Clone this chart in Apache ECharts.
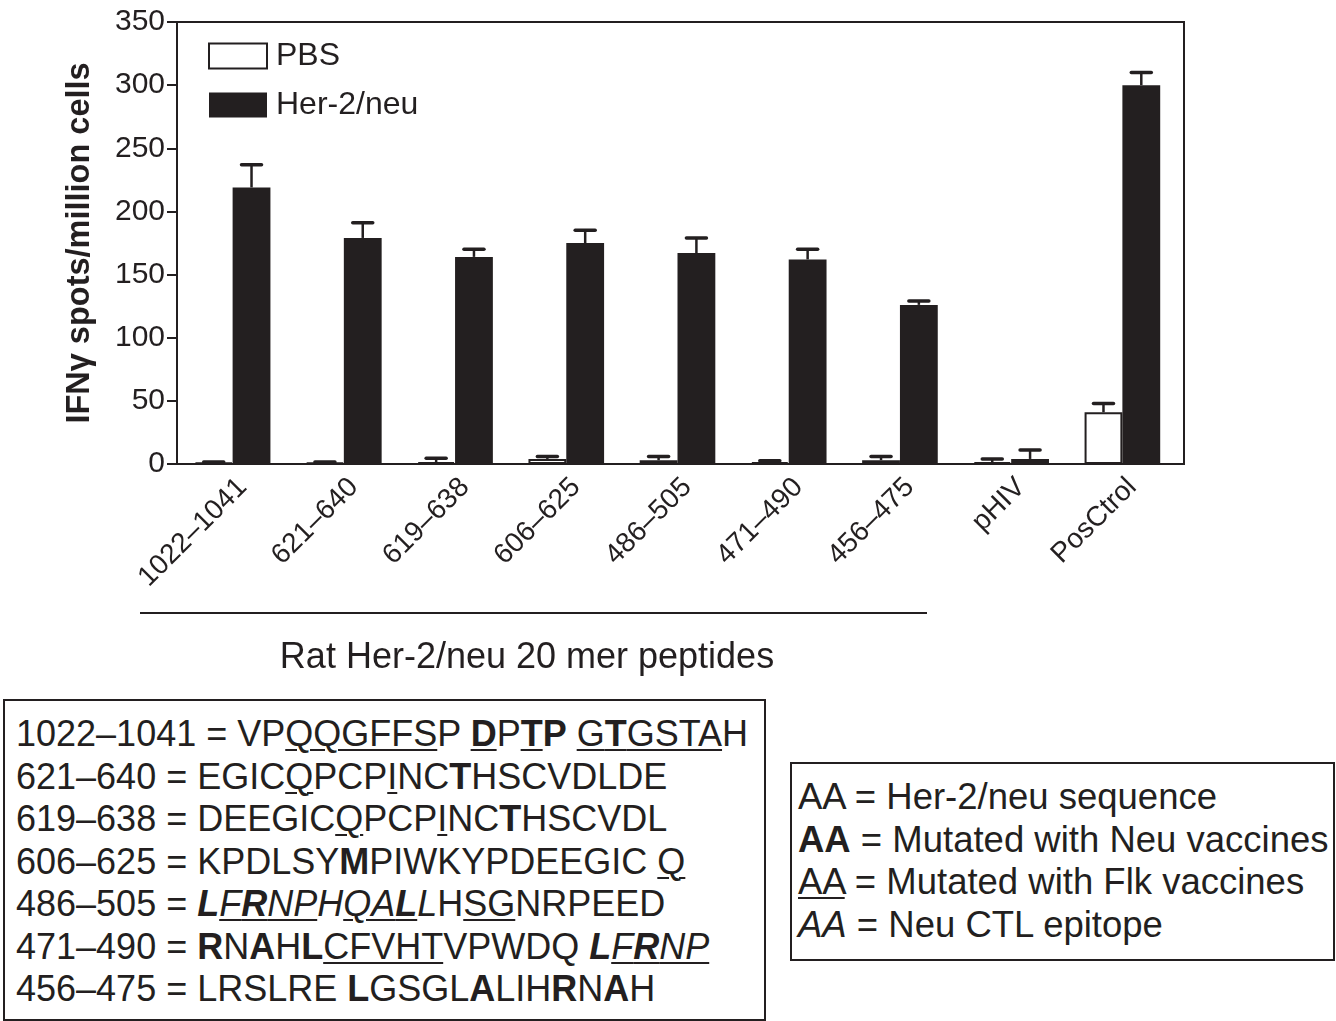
<!DOCTYPE html>
<html>
<head>
<meta charset="utf-8">
<script src="https://cdn.jsdelivr.net/npm/echarts@6/dist/echarts.min.js"></script>
<style>
  body { margin: 0; background: #fff; }
  #main { position: absolute; left: 0; top: 0; width: 1336px; height: 1021px; }
  .box {
    position: absolute; box-sizing: border-box; border: 2px solid #231f20;
    font-family: 'Liberation Sans', Arial, sans-serif; color: #231f20;
    background: #fff; white-space: nowrap;
  }
  #seqBox { left: 3px; top: 699px; width: 763px; height: 322px; font-size: 36px; line-height: 42.5px; padding: 12px 0 0 11px; }
  #keyBox { left: 790px; top: 762px; width: 545px; height: 199px; font-size: 36.5px; line-height: 42.5px; padding: 12px 0 0 6px; }
  u { text-decoration-thickness: 2px; text-underline-offset: 3px; }
</style>
</head>
<body>
<div id="main"></div>
<div class="box" id="seqBox"></div>
<div class="box" id="keyBox"></div>
<script>
var categories = ['1022–1041', '621–640', '619–638', '606–625', '486–505', '471–490', '456–475', 'pHIV', 'PosCtrol']
var pbsMean = [1, 1, 1.5, 4, 3, 1.5, 3, 1.5, 41]
var pbsErr = [0.5, 0.5, 3, 2, 3, 1, 3, 2.5, 7]
var herMean = [219, 179, 164, 175, 167, 162, 126, 4, 300]
var herErr = [18, 12, 6, 10, 12, 8, 3, 7, 10]
var yTicks = [0, 50, 100, 150, 200, 250, 300, 350]

// peptide sequences (bold = Neu mutation, underline = Flk mutation, italic = CTL epitope)
var sequenceLines = [
  '1022–1041 = VP<u>QQGFFS</u>P <b><u>D</u></b>P<b><u>T</u>P</b> <u>G<b>T</b>GSTA</u>H',
  '621–640 = EGIC<u>Q</u>PCP<u>I</u>NC<b>T</b>HSCVDLDE',
  '619–638 = DEEGIC<u>Q</u>PCP<u>I</u>NC<b>T</b>HSCVDL',
  '606–625 = KPDLSY<b>M</b>PIWKYPDEEGIC <u>Q</u>',
  '486–505 = <i><b>L</b><u>F<b>R</b>NP</u>H<u>QA<b>L</b></u>L</i>H<u>SG</u>NRPEED',
  '471–490 = <b>R</b>N<b>A</b>H<b>L</b><u>CFVHT</u>VPWDQ <i><b>L</b><u>F<b>R</b>NP</u></i>',
  '456–475 = LRSLRE <b>L</b>GSGL<b>A</b>LIH<b>R</b>N<b>A</b>H'
]
var keyLines = [
  'AA = Her-2/neu sequence',
  '<b>AA</b> = Mutated with Neu vaccines',
  '<u>AA</u> = Mutated with Flk vaccines',
  '<i>AA</i> = Neu CTL epitope'
]
document.getElementById('seqBox').innerHTML = sequenceLines.join('<br>')
document.getElementById('keyBox').innerHTML = keyLines.join('<br>')

var ink = '#231f20'
var font = "'Liberation Sans', Arial, sans-serif"
var catGap = 0.32

function errData (mean, err) {
  return mean.map(function (v, i) { return [i, v, v + err[i]] })
}

// side = -1 for PBS (left bar), +1 for Her-2/neu (right bar)
function errorBar (side) {
  return function (params, api) {
    var i = api.value(0)
    var band = api.size([1, 0])[0]
    var barW = band * (1 - catGap) / 2
    var x = api.coord([i, 0])[0] + side * barW / 2
    var yLow = api.coord([i, api.value(1)])[1]
    var yHigh = api.coord([i, api.value(2)])[1]
    return {
      type: 'group',
      children: [
        { type: 'line', shape: { x1: x, y1: yLow, x2: x, y2: yHigh }, style: { stroke: ink, lineWidth: 2.5 } },
        { type: 'line', shape: { x1: x - 10, y1: yHigh, x2: x + 10, y2: yHigh }, style: { stroke: ink, lineWidth: 3.5, lineCap: 'round' } }
      ]
    }
  }
}

var myChart = echarts.init(document.getElementById('main'))
var option = {
  animation: false,
  backgroundColor: '#fff',
  textStyle: { fontFamily: font, color: ink },
  grid: { left: 177, top: 22, right: 158, bottom: 557 },
  legend: {
    orient: 'vertical', left: 203, top: 35,
    itemWidth: 58, itemHeight: 25, itemGap: 17,
    icon: 'rect',
    textStyle: { fontSize: 32, color: ink, fontFamily: font, padding: [0, 0, 0, 4] },
    data: ['PBS', 'Her-2/neu']
  },
  xAxis: {
    type: 'category',
    data: categories,
    axisLine: { lineStyle: { color: ink, width: 2 } },
    axisTick: { show: false },
    axisLabel: { rotate: 45, fontSize: 28, color: ink, margin: 9, interval: 0, verticalAlign: 'top' }
  },
  yAxis: {
    type: 'value', min: 0, max: 350, interval: 50,
    name: 'IFNγ spots/million cells',
    nameLocation: 'middle', nameGap: 80,
    nameTextStyle: { fontSize: 32.5, fontWeight: 'bold', color: ink },
    axisLine: { show: true, lineStyle: { color: ink, width: 2 } },
    axisTick: { show: true, length: 10, lineStyle: { color: ink, width: 2 } },
    axisLabel: { fontSize: 30, color: ink, margin: 12, customValues: yTicks },
    splitLine: { show: false }
  },
  series: [
    {
      name: 'PBS', type: 'bar', data: pbsMean,
      barGap: '0%', barCategoryGap: (catGap * 100) + '%',
      itemStyle: { color: '#fff', borderColor: ink, borderWidth: 2 }
    },
    {
      name: 'Her-2/neu', type: 'bar', data: herMean,
      itemStyle: { color: ink, borderColor: ink, borderWidth: 0 }
    },
    {
      type: 'custom', data: errData(pbsMean, pbsErr),
      renderItem: errorBar(-1), encode: { x: 0, y: [1, 2] }, z: 3
    },
    {
      type: 'custom', data: errData(herMean, herErr),
      renderItem: errorBar(1), encode: { x: 0, y: [1, 2] }, z: 3
    }
  ],
  graphic: [
    // frame: top and right edges of the plot box
    { type: 'polyline', shape: { points: [[177, 22], [1184, 22], [1184, 464], [1177, 464]] }, style: { stroke: ink, lineWidth: 2, fill: null } },
    { type: 'line', shape: { x1: 140, y1: 613, x2: 927, y2: 613 }, style: { stroke: ink, lineWidth: 2 } },
    {
      type: 'text', x: 527, y: 658,
      style: { text: 'Rat Her-2/neu 20 mer peptides', fontSize: 36, fill: ink, fontFamily: font, align: 'center', verticalAlign: 'middle' }
    }
  ]
}
myChart.setOption(option)
</script>
</body>
</html>
